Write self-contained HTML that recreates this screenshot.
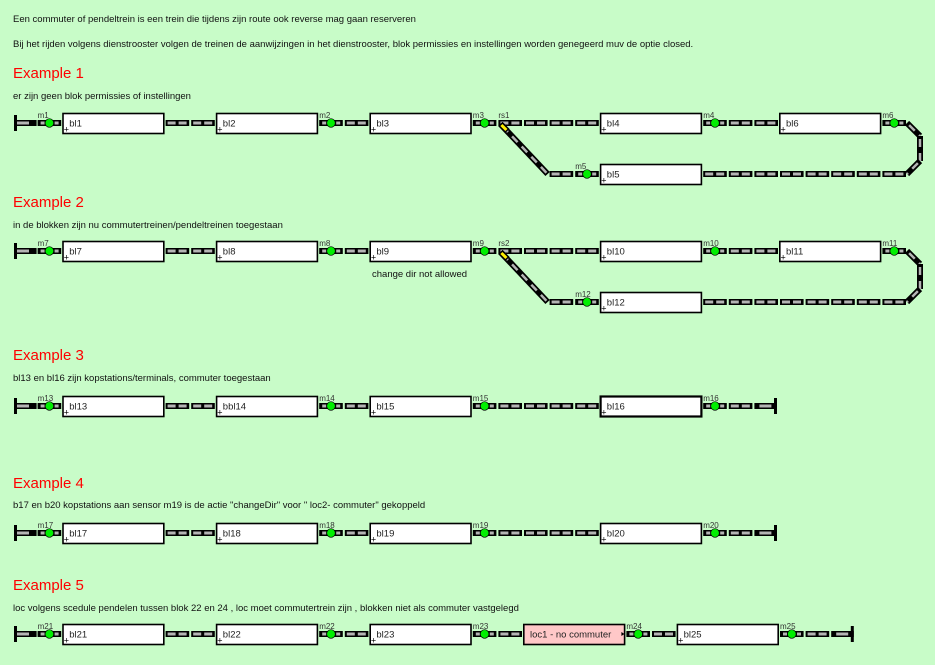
<!DOCTYPE html>
<html><head><meta charset="utf-8">
<style>
html,body{margin:0;padding:0;background:#c8fcc8;width:935px;height:665px;overflow:hidden}
svg{position:absolute;left:0;top:0}
text{font-family:"Liberation Sans",sans-serif}
</style></head><body>
<svg id="s" width="935" height="665" xmlns="http://www.w3.org/2000/svg">
<rect width="935" height="665" fill="#c8fcc8"/>
<g font-size="9.5" fill="#111">
<text x="13" y="22">Een commuter of pendeltrein is een trein die tijdens zijn route ook  reverse mag gaan reserveren</text>
<text x="13" y="47">Bij het rijden volgens dienstrooster volgen de treinen de aanwijzingen in het dienstrooster, blok permissies en instellingen worden genegeerd muv de optie closed.</text>
<text x="13" y="99">er zijn geen blok permissies of instellingen</text>
<text x="13" y="228">in de blokken zijn nu commutertreinen/pendeltreinen toegestaan</text>
<text x="372" y="277">change dir not allowed</text>
<text x="13" y="381">bl13 en bl16 zijn kopstations/terminals, commuter toegestaan</text>
<text x="13" y="508">b17 en b20 kopstations aan sensor m19 is de actie "changeDir" voor  " loc2- commuter" gekoppeld</text>
<text x="13" y="611">loc volgens scedule pendelen tussen blok 22 en 24  , loc moet commutertrein zijn , blokken niet als commuter vastgelegd</text>
</g>
<g font-size="15" fill="#ff0000">
<text x="13" y="78">Example 1</text>
<text x="13" y="207">Example 2</text>
<text x="13" y="360">Example 3</text>
<text x="13" y="488">Example 4</text>
<text x="13" y="590">Example 5</text>
</g>
<g id="g"></g>
</svg>
<script>
var W=25.6,O=11,out='';
function cx(i){return O+i*W;}
function track(i,y){var x=cx(i);out+='<rect x="'+(x+1)+'" y="'+(y-3)+'" width="'+(W-2)+'" height="6" fill="#000"/><rect x="'+(x+3)+'" y="'+(y-1.5)+'" width="8" height="3" fill="#b4b4b4"/><rect x="'+(x+14)+'" y="'+(y-1.5)+'" width="8" height="3" fill="#b4b4b4"/>';}
function sensor(i,y,l){var x=cx(i);out+='<rect x="'+(x+1)+'" y="'+(y-3)+'" width="'+(W-2)+'" height="6" fill="#000"/><rect x="'+(x+4)+'" y="'+(y-1.5)+'" width="4" height="3" fill="#b4b4b4"/><rect x="'+(x+18)+'" y="'+(y-1.5)+'" width="4" height="3" fill="#b4b4b4"/><circle cx="'+(x+W/2)+'" cy="'+y+'" r="4.3" fill="#00ee00" stroke="#000" stroke-width="0.7"/><text x="'+(x+1)+'" y="'+(y-5)+'" font-size="8" fill="#333">'+l+'</text>';}
function block(i,y,l,fill,thick){var x=cx(i);fill=fill||'#fff';var sw=thick?2.2:1.6;out+='<rect x="'+(x+0.8)+'" y="'+(y-9.5)+'" width="'+(4*W-1.6)+'" height="20" fill="'+fill+'" stroke="#000" stroke-width="'+sw+'"/><text x="'+(x+7)+'" y="'+(y+3.5)+'" font-size="9.5" fill="#222">'+l+'</text>';if(fill=='#fff')out+='<text x="'+(x+1.5)+'" y="'+(y+9.5)+'" font-size="9" fill="#000">+</text>';}
function bumper(x,y){out+='<rect x="'+x+'" y="'+(y-8)+'" width="3" height="16" fill="#000"/>';}
function endtrack(i,y,left){var x=cx(i);out+='<rect x="'+(x+(left?3:1))+'" y="'+(y-3)+'" width="'+(W-3)+'" height="6" fill="#000"/><rect x="'+(x+6)+'" y="'+(y-1.5)+'" width="12" height="3" fill="#b4b4b4"/>';}
function seg(x1,y1,x2,y2){out+='<line x1="'+x1+'" y1="'+y1+'" x2="'+x2+'" y2="'+y2+'" stroke="#000" stroke-width="6"/><line x1="'+x1+'" y1="'+y1+'" x2="'+x2+'" y2="'+y2+'" stroke="#b4b4b4" stroke-width="2.5" stroke-dasharray="8 6" stroke-dashoffset="-3"/>';}
function loopEx(y,n){
 var y2=y+51;
 bumper(14,y);endtrack(0,y,true);
 sensor(1,y,n.m[0]);block(2,y,n.b[0]);track(6,y);track(7,y);block(8,y,n.b[1]);sensor(12,y,n.m[1]);track(13,y);
 block(14,y,n.b[2]);sensor(18,y,n.m[2]);
 track(19,y);out+='<text x="'+(cx(19)+1)+'" y="'+(y-5)+'" font-size="8" fill="#333">'+n.rs+'</text>';
 track(20,y);track(21,y);track(22,y);block(23,y,n.b[3]);sensor(27,y,n.m[3]);track(28,y);track(29,y);block(30,y,n.b[4]);sensor(34,y,n.m[4]);
 seg(cx(19)+3,y+1,cx(21)-1,y2);
 out+='<line x1="'+(cx(19)+3)+'" y1="'+(y+1)+'" x2="'+(cx(19)+10)+'" y2="'+(y+8)+'" stroke="#000" stroke-width="6"/><line x1="'+(cx(19)+4)+'" y1="'+(y+2)+'" x2="'+(cx(19)+9)+'" y2="'+(y+7)+'" stroke="#ffee00" stroke-width="3"/>';
 track(21,y2);sensor(22,y2,n.m[5]);block(23,y2,n.b[5]);
 for(var i=27;i<35;i++)track(i,y2);
 var xe=cx(35);
 seg(xe,y,xe+13,y+13);seg(xe+13,y+13,xe+13,y2-13);seg(xe+13,y2-13,xe,y2);
}
loopEx(123,{m:['m1','m2','m3','m4','m6','m5'],b:['bl1','bl2','bl3','bl4','bl6','bl5'],rs:'rs1'});
loopEx(251,{m:['m7','m8','m9','m10','m11','m12'],b:['bl7','bl8','bl9','bl10','bl11','bl12'],rs:'rs2'});
function lineEx(y,m,b,t){
 bumper(14,y);endtrack(0,y,true);sensor(1,y,m[0]);block(2,y,b[0]);track(6,y);track(7,y);block(8,y,b[1]);sensor(12,y,m[1]);track(13,y);
 block(14,y,b[2]);sensor(18,y,m[2]);track(19,y);track(20,y);track(21,y);track(22,y);block(23,y,b[3],null,t);sensor(27,y,m[3]);track(28,y);endtrack(29,y,false);bumper(cx(30)-5,y);
}
lineEx(406,['m13','m14','m15','m16'],['bl13','bbl14','bl15','bl16'],true);
lineEx(533,['m17','m18','m19','m20'],['bl17','bl18','bl19','bl20'],false);
(function(){var y=634;bumper(14,y);endtrack(0,y,true);sensor(1,y,'m21');block(2,y,'bl21');track(6,y);track(7,y);block(8,y,'bl22');sensor(12,y,'m22');track(13,y);
block(14,y,'bl23');sensor(18,y,'m23');track(19,y);block(20,y,'loc1 - no commuter','#ffc8c8');
out+='<path d="M'+(cx(24)-4)+' '+(y-2)+' l3 2 l-3 2z" fill="#000"/>';
sensor(24,y,'m24');track(25,y);block(26,y,'bl25');sensor(30,y,'m25');track(31,y);endtrack(32,y,false);bumper(cx(33)-5,y);})();
document.getElementById('g').innerHTML=out;
</script>
</body></html>
